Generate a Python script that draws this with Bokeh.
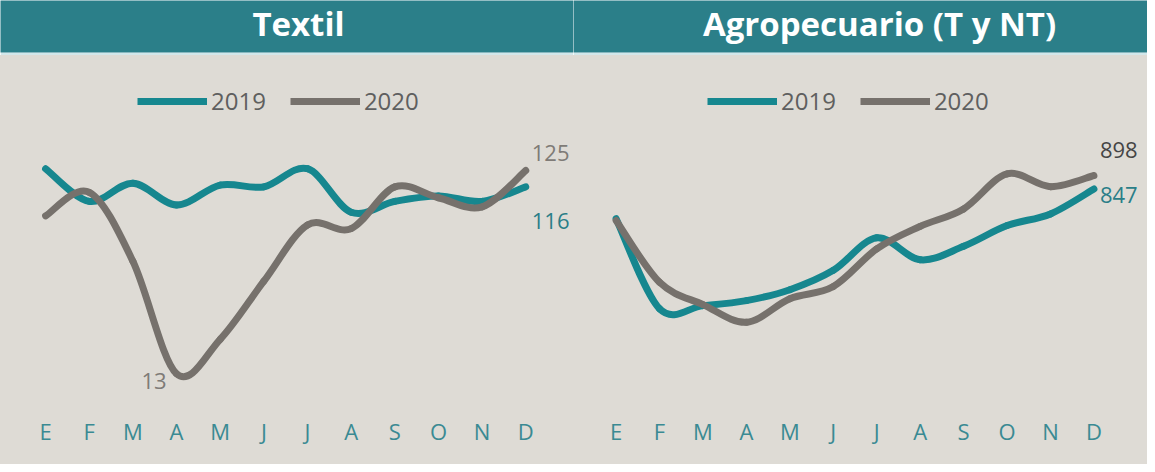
import numpy as np
from bokeh.plotting import figure
from bokeh.models import Range1d, FixedTicker, Legend, LegendItem, ColumnDataSource
from bokeh.layouts import column, row
from bokeh.embed import file_html
from bokeh.resources import INLINE
from bokeh.core.properties import value

# ---------------- data ----------------
months = ["E", "F", "M", "A", "M", "J", "J", "A", "S", "O", "N", "D"]
series_names = ["2019", "2020"]
titles = ["Textil", "Agropecuario (T y NT)"]
textil_2019 = [126, 108, 118, 106, 117, 116, 126, 102, 108, 111, 108, 116]
textil_2020 = [100, 113, 75, 13, 32, 64, 95, 93, 116, 110, 105, 125]
agro_2019 = [735, 395, 407, 426, 467, 540, 663, 580, 631, 709, 753, 847]
agro_2020 = [728, 495, 411, 344, 433, 479, 621, 706, 772, 904, 856, 898]

# ---------------- style ----------------
TEAL_HDR = "#2b7f89"
HDR_LINE = "#d3e7ea"
TEAL = "#16878f"
TEAL_TXT = "#2a7e88"
GRAY = "#76716c"
GRAY_TXT = "#7f7b77"
DARK_TXT = "#454545"
BG = "#dedbd5"
FONT = "Open Sans"
NAN = float("nan")


def bezier_source(ys):
    x = np.arange(len(ys), dtype=float)
    y = np.asarray(ys, dtype=float)
    n = len(y)
    xp = np.concatenate([[x[0]], x, [x[-1]]])
    yp = np.concatenate([[y[0]], y, [y[-1]]])
    return ColumnDataSource(dict(
        x0=xp[1:n], y0=yp[1:n],
        x1=xp[2:n + 1], y1=yp[2:n + 1],
        cx0=xp[1:n] + (xp[2:n + 1] - xp[0:n - 1]) / 6.0,
        cy0=yp[1:n] + (yp[2:n + 1] - yp[0:n - 1]) / 6.0,
        cx1=xp[2:n + 1] - (xp[3:n + 2] - xp[1:n]) / 6.0,
        cy1=yp[2:n + 1] - (yp[3:n + 2] - yp[1:n]) / 6.0,
    ))


def header(title, width, title_x):
    h = figure(width=width, height=55, x_range=Range1d(0, width), y_range=Range1d(0, 52),
               x_axis_type=None, y_axis_type=None, toolbar_location=None, output_backend="svg",
               min_border=0, min_border_bottom=3, background_fill_color=TEAL_HDR,
               border_fill_color=HDR_LINE, outline_line_color=None)
    h.text(x=[title_x], y=[29], text=[title], text_color="white", text_font=value(FONT),
           text_font_style="bold", text_font_size="33px", text_align="center",
           text_baseline="middle")
    return h


def chart(s19, s20, width, xr, yr, legend_loc, labels):
    c = figure(width=width, height=409, x_range=Range1d(*xr), y_range=Range1d(*yr),
               y_axis_location=None, toolbar_location=None, output_backend="svg",
               min_border=0, min_border_bottom=51,
               background_fill_color=BG, border_fill_color=BG, outline_line_color=None,
               styles={"background-color": BG})
    c.grid.visible = False
    ax = c.xaxis[0]
    ax.ticker = FixedTicker(ticks=list(range(len(months))))
    ax.major_label_overrides = {i: m for i, m in enumerate(months)}
    ax.axis_line_color = None
    ax.major_tick_line_color = None
    ax.minor_tick_line_color = None
    ax.major_tick_out = 0
    ax.major_tick_in = 0
    ax.major_label_standoff = 2
    ax.major_label_text_font = FONT
    ax.major_label_text_font_size = "22px"
    ax.major_label_text_color = "#3a8a93"

    for s, col in ((s19, TEAL), (s20, GRAY)):
        c.bezier(x0="x0", y0="y0", x1="x1", y1="y1", cx0="cx0", cy0="cy0", cx1="cx1",
                 cy1="cy1", source=bezier_source(s), line_color=col, line_width=7,
                 line_cap="round")

    l19 = c.line(x=[0, 1], y=[NAN, NAN], line_color=TEAL, line_width=7)
    l20 = c.line(x=[0, 1], y=[NAN, NAN], line_color=GRAY, line_width=7)
    leg = Legend(items=[LegendItem(label=series_names[0], renderers=[l19]),
                        LegendItem(label=series_names[1], renderers=[l20])],
                 orientation="horizontal", location=legend_loc, glyph_width=70,
                 glyph_height=20, label_standoff=4, spacing=24, padding=0, margin=0,
                 background_fill_alpha=0, border_line_color=None,
                 label_text_font=FONT, label_text_font_size="24px",
                 label_text_color="#5f5f5f")
    c.add_layout(leg)

    for s, idx, col, align, xo, yo in labels:
        c.text(x=[idx], y=[s[idx]], text=[str(s[idx])], text_color=col,
               text_font=value(FONT), text_font_size="22px", text_align=align,
               text_baseline="middle", x_offset=xo, y_offset=yo)
    return c


last = len(months) - 1
tmin = int(np.argmin(textil_2020))

h1 = header(titles[0], 573, 298)
h2 = header(titles[1], 574, 306)

c1 = chart(textil_2019, textil_2020, 573, (-1.033, 12.094), (-8.9, 188.4), (137, 296),
           [(textil_2020, last, GRAY_TXT, "left", 6, -18),
            (textil_2019, last, TEAL_TXT, "left", 6, 34),
            (textil_2020, tmin, GRAY_TXT, "right", -10, 7)])
c2 = chart(agro_2019, agro_2020, 574, (-0.981, 12.233), (-0.1, 1350.8), (134, 296),
           [(agro_2020, last, DARK_TXT, "left", 6, -25),
            (agro_2019, last, TEAL_TXT, "left", 6, 6)])

p = column(row(h1, h2), row(c1, c2, styles={"background-color": BG}))
open("out.html", "w").write(file_html(p, INLINE))
